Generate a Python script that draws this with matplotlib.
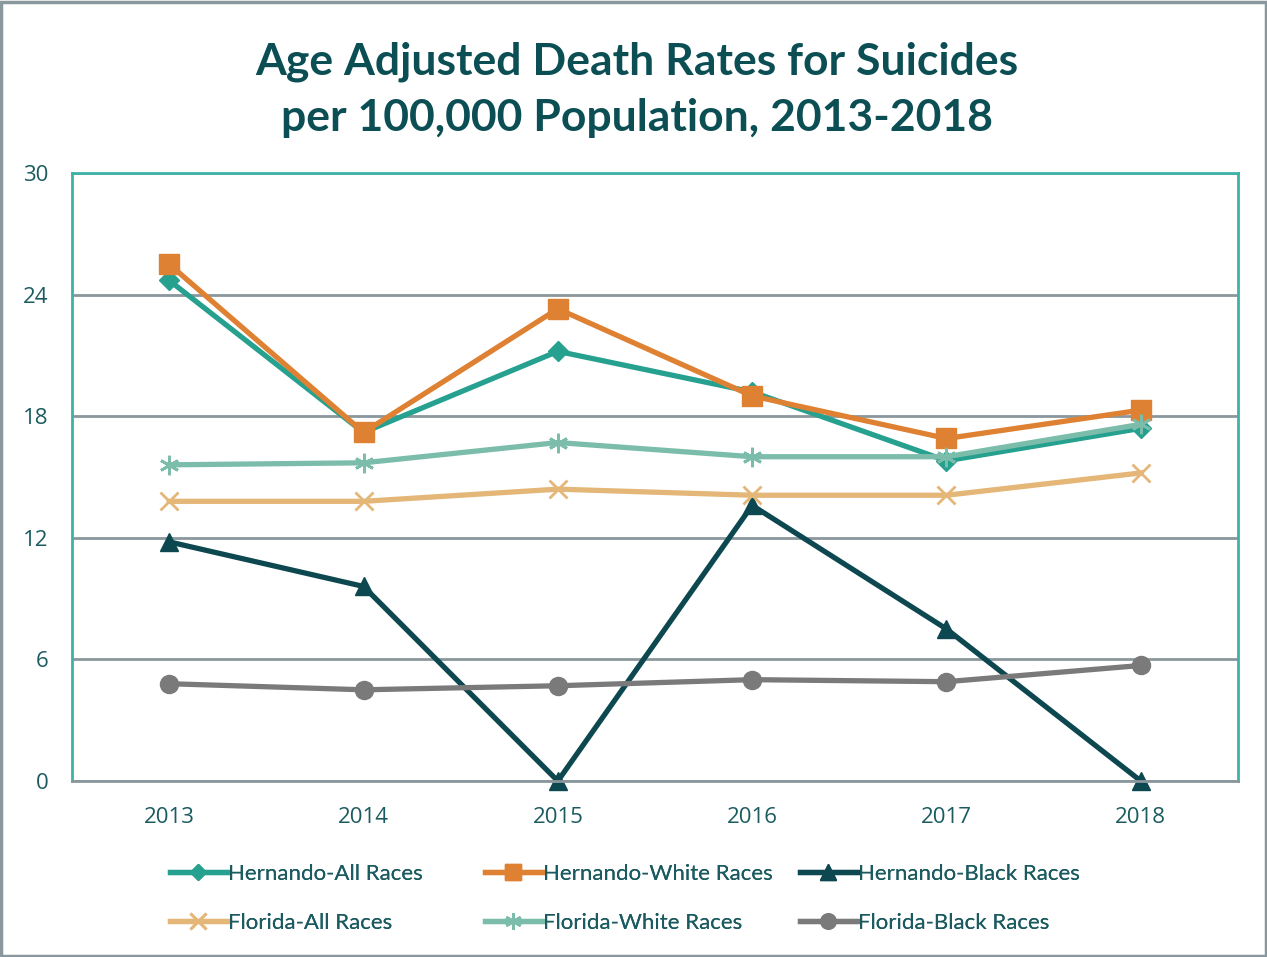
import matplotlib
matplotlib.use('Agg')
import matplotlib.pyplot as plt
from matplotlib.patches import Rectangle

years = ['2013', '2014', '2015', '2016', '2017', '2018']

hernando_all = [24.7, 17.2, 21.2, 19.2, 15.8, 17.4]
hernando_white = [25.5, 17.2, 23.3, 19.0, 16.9, 18.3]
hernando_black = [11.8, 9.6, 0.0, 13.6, 7.5, 0.0]
florida_all = [13.8, 13.8, 14.4, 14.1, 14.1, 15.2]
florida_white = [15.6, 15.7, 16.7, 16.0, 16.0, 17.6]
florida_black = [4.8, 4.5, 4.7, 5.0, 4.9, 5.7]

plt.rcParams['font.family'] = ['Lato', 'DejaVu Sans']
text_color = '#1b5b60'

fig = plt.figure(figsize=(12.67, 9.57), dpi=100)
ax = fig.add_axes([72/1267, 1-781/957, 1166/1267, 608/957])

x = list(range(len(years)))
series = [
    ('Hernando-All Races', hernando_all, '#26a08f', 'D', 10, {}),
    ('Hernando-White Races', hernando_white, '#df8133', 's', 14, {}),
    ('Hernando-Black Races', hernando_black, '#0d4850', '^', 13, {}),
    ('Florida-All Races', florida_all, '#e4b677', 'x', 13, {'markeredgewidth': 2}),
    ('Florida-White Races', florida_white, '#7bbdaa', (6, 2, 0), 14, {'markeredgewidth': 2}),
    ('Florida-Black Races', florida_black, '#7a7a7a', 'o', 13, {}),
]

handles = {}
for name, vals, col, mk, ms, kw in series:
    ln, = ax.plot(x, vals, color=col, lw=3.8, marker=mk, markersize=ms,
                  markerfacecolor=col, markeredgecolor=col, label=name,
                  solid_joinstyle='miter', clip_on=False, **kw)
    handles[name] = ln

ax.set_xlim(-0.5, 5.5)
ax.set_ylim(0, 30)
ax.set_yticks([0, 6, 12, 18, 24, 30])
ax.set_xticks(x)
ax.set_xticklabels(years)
ax.yaxis.grid(True, color='#8a979c', lw=2)
ax.set_axisbelow(True)
ax.tick_params(length=0, colors=text_color)
ax.tick_params(axis='x', pad=19)
ax.tick_params(axis='y', pad=17)
for lab in ax.get_xticklabels() + ax.get_yticklabels():
    lab.set_fontfamily(['Open Sans', 'DejaVu Sans'])
    lab.set_fontsize(16)
for s in ['top', 'left', 'right']:
    ax.spines[s].set_color('#3db3a6')
    ax.spines[s].set_linewidth(2)
ax.spines['bottom'].set_color('#8a979c')
ax.spines['bottom'].set_linewidth(2)

fig.text(0.503, 0.906, 'Age Adjusted Death Rates for Suicides\nper 100,000 Population, 2013-2018',
         ha='center', va='center', fontsize=32, fontweight='bold', color='#0b4e54',
         linespacing=1.48)

# one legend per column so the columns sit where the reference has them
columns = [('Hernando-All Races', 'Florida-All Races'),
           ('Hernando-White Races', 'Florida-White Races'),
           ('Hernando-Black Races', 'Florida-Black Races')]
col_left = [170, 485, 800]
for names, left in zip(columns, col_left):
    leg = fig.legend([handles[n] for n in names], names, loc='upper left',
                     bbox_to_anchor=(left/1267, 1-864/957), frameon=False,
                     fontsize=16, handlelength=2.55, handletextpad=0.05,
                     labelspacing=1.3, labelcolor=text_color,
                     borderpad=0, borderaxespad=0, markerscale=0.85)
    fig.add_artist(leg)

fig.patches.append(Rectangle((0.001, 0.001), 0.998, 0.997, transform=fig.transFigure,
                             fill=False, edgecolor='#8a979c', lw=2.5))

fig.savefig('out.png', dpi=100)
